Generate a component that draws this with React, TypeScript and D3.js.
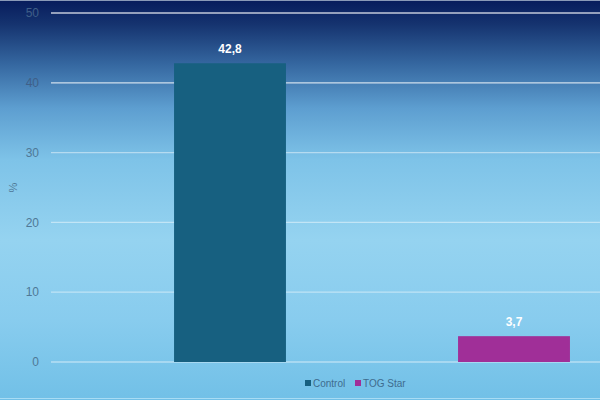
import React from "react";
import * as d3 from "d3";

const categories = ["Control", "TOG Star"];
const values = [42.8, 3.7];
const labels = ["42,8", "3,7"];
const colors = ["#176080", "#a02f98"];
const yTicks = [0, 10, 20, 30, 40, 50];

const W = 600;
const H = 400;

export default function App() {
  const y = d3.scaleLinear().domain([0, 50]).range([362, 13]);
  const x = d3
    .scaleBand<string>()
    .domain(categories)
    .range([88, 656])
    .paddingInner(0.606)
    .paddingOuter(0.303);

  return (
    <svg
      width={W}
      height={H}
      style={{ position: "absolute", left: 0, top: 0, display: "block" }}
      fontFamily="Liberation Sans, Arial, sans-serif"
    >
      <defs>
        <linearGradient id="bg" x1="0" y1="0" x2="0" y2="1">
          <stop offset="0" stopColor="#071c5c" />
          <stop offset="0.06" stopColor="#15336f" />
          <stop offset="0.16" stopColor="#3567a0" />
          <stop offset="0.27" stopColor="#5d9ed0" />
          <stop offset="0.4" stopColor="#7ec3e8" />
          <stop offset="0.6" stopColor="#95d3f0" />
          <stop offset="0.8" stopColor="#88ccee" />
          <stop offset="1" stopColor="#71c0e7" />
        </linearGradient>
      </defs>
      <rect x={0} y={0} width={W} height={H} fill="url(#bg)" />
      <line x1={0} x2={W} y1={0.5} y2={0.5} stroke="#8a9ab8" strokeWidth={1} />
      <line x1={0} x2={W} y1={398.5} y2={398.5} stroke="#a8dcf4" strokeWidth={1} />
      {yTicks.map((t) => (
        <g key={t}>
          <line
            x1={51}
            x2={W}
            y1={y(t)}
            y2={y(t)}
            stroke="#ffffff"
            strokeOpacity={t >= 40 ? 0.75 : 0.45}
            strokeWidth={1.3}
          />
          <text
            x={39}
            y={y(t)}
            dy="0.35em"
            textAnchor="end"
            fontSize={12}
            fill={t >= 40 ? "#3f5f88" : "#4f7896"}
          >
            {t}
          </text>
        </g>
      ))}
      <text
        transform={`translate(17,${(y(0) + y(50)) / 2}) rotate(-90)`}
        textAnchor="middle"
        fontSize={11}
        fill="#4f7896"
      >
        %
      </text>
      {categories.map((c, i) => (
        <g key={c}>
          <rect
            x={x(c)}
            y={y(values[i])}
            width={x.bandwidth()}
            height={y(0) - y(values[i])}
            fill={colors[i]}
          />
          <text
            x={(x(c) as number) + x.bandwidth() / 2}
            y={y(values[i]) - 10}
            textAnchor="middle"
            fontSize={12}
            fontWeight="bold"
            fill="#ffffff"
          >
            {labels[i]}
          </text>
        </g>
      ))}
      <g transform="translate(305,383)">
        {categories.map((c, i) => (
          <g key={c} transform={`translate(${i * 50},0)`}>
            <rect x={0} y={-3} width={6} height={6} fill={colors[i]} />
            <text x={8} y={0} dy="0.35em" fontSize={10} fill="#3f6c8e">
              {c}
            </text>
          </g>
        ))}
      </g>
    </svg>
  );
}
